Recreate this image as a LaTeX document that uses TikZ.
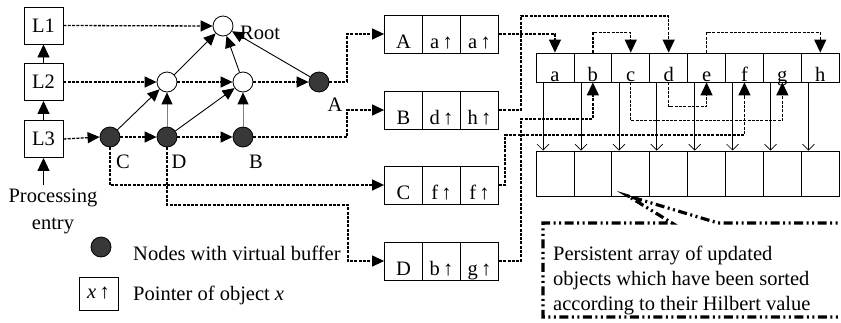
\documentclass[tikz,border=0pt]{standalone}
\usepackage{fontspec}
\setmainfont{Liberation Serif}
\usetikzlibrary{arrows.meta,calc}
\begin{document}
\begin{tikzpicture}[x=1pt,y=-1pt,
  font=\fontsize{20.5}{24}\selectfont,
  layerbox/.style={draw,line width=0.9pt,minimum width=39pt,minimum height=37pt,inner sep=0pt},
  wnode/.style={circle,draw,fill=white,minimum size=20pt,inner sep=0pt,line width=0.8pt},
  bnode/.style={circle,draw,fill=black!78,minimum size=20pt,inner sep=0pt,line width=0.8pt},
  dline/.style={line width=1.3pt,dash pattern=on 3pt off 1.3pt},
  tip/.style={-{Triangle[length=12pt,width=11pt,color=black]}},
  bigtip/.style={-{Triangle[length=13pt,width=12pt]}},
  sline/.style={line width=0.9pt},
  rcell/.style={draw,line width=0.8pt,minimum width=38pt,minimum height=38pt,inner sep=0pt,text height=33pt,text depth=5pt},
  acell/.style={draw,line width=0.8pt,minimum width=37.9pt,minimum height=29pt,inner sep=0pt,text height=28pt,text depth=1pt},
  bcell/.style={draw,line width=0.8pt,minimum width=37.9pt,minimum height=45pt,inner sep=0pt},
  vtip/.style={-{Straight Barb[length=6pt,width=12pt,line width=0.7pt]}},
  callout/.style={line width=3.2pt,dash pattern=on 9pt off 3.5pt on 2pt off 3.5pt on 2pt off 3.5pt},
  lbl/.style={inner sep=0pt},
]
\useasboundingbox (0,0) rectangle (841,322);
% layer boxes
\node[layerbox] (L1) at (43.5,25.5) {L1};
\node[layerbox] (L2) at (43.5,82) {L2};
\node[layerbox] (L3) at (43.5,139) {L3};
\coordinate (entry) at (43.5,185);
\draw[sline,bigtip] (entry) -- (L3.south);
\draw[sline,bigtip] (L3.north) -- (L2.south);
\draw[sline,bigtip] (L2.north) -- (L1.south);
\node[align=center,font=\fontsize{20.5}{27}\selectfont] (pe) at (53,211) {Processing\\entry};
% tree nodes
\node[wnode] (root) at (223,26) {};
\node[wnode] (w1) at (167,82) {};
\node[wnode] (w2) at (243,82) {};
\node[bnode] (nA) at (319,82) {};
\node[bnode] (nC) at (110,137) {};
\node[bnode] (nD) at (167,137) {};
\node[bnode] (nB) at (243,137) {};
\node[lbl,anchor=west] (rootl) at (240,33) {Root};
\node[lbl] (lA) at (335,105) {A};
\node[lbl] (lC) at (123,162) {C};
\node[lbl] (lD) at (179,162) {D};
\node[lbl] (lB) at (256,162) {B};
% dashed level links
\draw[dline,tip] (L1.east) -- (root.west);
\draw[dline,tip] (L2.east) -- (w1.west);
\draw[dline,tip] (w1.east) -- (w2.west);
\draw[dline,tip] (w2.east) -- (nA.west);
\draw[dline,tip] (L3.east) -- (nC.west);
\draw[dline,tip] (nC.east) -- (nD.west);
\draw[dline,tip] (nD.east) -- (nB.west);
% tree edges
\draw[sline,tip] (w1) -- (root);
\draw[sline,tip] (w2) -- (root);
\draw[sline,tip] (nA) -- (root);
\draw[sline,tip] (nC) -- (w1);
\draw[sline,tip,draw=black!50] (nD) -- (w1);
\draw[sline,tip] (nD) -- (w2);
\draw[sline,tip,draw=black!50] (nB) -- (w2);
% records
\foreach \r/\y/\a/\b/\c in {A/34/A/a/a, B/110/B/d/h, C/185/C/f/f, D/261/D/b/g}{
  \node[rcell] (r\r1) at (403.5,\y) {\a};
  \node[rcell] (r\r2) at (441.5,\y) {\b\,↑};
  \node[rcell] (r\r3) at (479.5,\y) {\c\,↑};
}
% links tree -> records
\draw[dline,tip] (nA.east) -| (347,34) -- (rA1.west);
\draw[dline,tip] (nB.east) -| (347,110) -- (rB1.west);
\draw[dline,tip] (nC.south) |- (rC1.west);
\draw[dline,tip] (nD.south) |- (348,205) |- (rD1.west);
% arrays
\foreach \i/\l in {1/a,2/b,3/c,4/d,5/e,6/f,7/g,8/h}{
  \node[acell] (t\i) at ({536+37.9*(\i-0.5)},67.5) {\l};
  \node[bcell] (b\i) at ({536+37.9*(\i-0.5)},173.5) {};
  \draw[line width=0.7pt,vtip] ($(t\i.south west)+(7.5,0)$) -- ($(b\i.north west)+(7.5,0)$);
}
% links records -> array
\draw[dline,bigtip] (rA3.east) -| (t1.north);
\draw[dline,bigtip] (rB3.east) -| (521,16) -| (t4.north);
\draw[dline,bigtip] (t2.north) -- ++(0,-20) -| (t3.north);
\draw[dline,bigtip] (t5.north) -- ++(0,-20) -| (t8.north);
\draw[dline,bigtip] (t4.south) -- ++(0,24) -| (t5.south);
\draw[dline,bigtip] (t3.south) -- ++(0,38) -| (t7.south);
\draw[dline,bigtip] (rD3.east) -| (521,119) -| (t2.south);
\draw[dline,bigtip] (rC3.east) -| (505,135) -| (t6.south);
% callout
\coordinate (cp) at (628,196);
\draw[callout] (850,223) -- (718,223) -- (cp) -- (672,223) -- (543,223) -- (543,317) -- (850,317);
\node[lbl,anchor=base west] (ct1) at (553,260) {Persistent array of updated};
\node[lbl,anchor=base west] (ct2) at (553,285) {objects which have been sorted};
\node[lbl,anchor=base west] (ct3) at (553,310) {according to their Hilbert value};
% legend
\node[bnode] (lgc) at (101,247) {};
\node[lbl,anchor=base west] (lgt1) at (133,260) {Nodes with virtual buffer};
\node[draw,line width=0.8pt,minimum width=39pt,minimum height=33pt,inner sep=0pt] (lgb) at (98.5,293.5) {\textit{x}\,↑};
\node[lbl,anchor=base west] (lgt2) at (133,300) {Pointer of object \textit{x}};
\end{tikzpicture}
\end{document}
